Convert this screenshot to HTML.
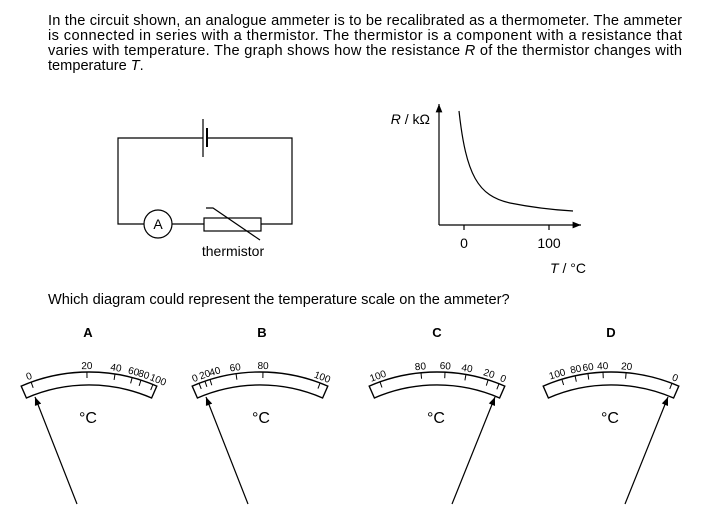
<!DOCTYPE html>
<html><head><meta charset="utf-8"><style>
body{margin:0;background:#fff;}
svg{display:block;font-family:"Liberation Sans",Arial,sans-serif;}
</style></head><body>
<svg width="713" height="516" viewBox="0 0 713 516" xmlns="http://www.w3.org/2000/svg">
<defs>
<marker id="ah" viewBox="0 0 10 10" refX="10" refY="5" markerWidth="7" markerHeight="7" orient="auto"><path d="M0,1 L10,5 L0,9 z" fill="#000"/></marker>
<g id="dial"><path d="M21.2 386.1 A170 170 0 0 1 156.8 386.1 L151.6 398 A157 157 0 0 0 26.4 398 Z" fill="none" stroke="#000" stroke-width="1.4"/></g>
</defs>
<g font-size="14.6" fill="#000">
<text x="48" y="25" textLength="634" lengthAdjust="spacing">In the circuit shown, an analogue ammeter is to be recalibrated as a thermometer. The ammeter</text>
<text x="48" y="40" textLength="634" lengthAdjust="spacing">is connected in series with a thermistor. The thermistor is a component with a resistance that</text>
<text x="48" y="55" textLength="634" lengthAdjust="spacing">varies with temperature. The graph shows how the resistance <tspan font-style="italic">R</tspan> of the thermistor changes with</text>
<text x="48" y="70">temperature <tspan font-style="italic">T</tspan>.</text>
<text x="48" y="304">Which diagram could represent the temperature scale on the ammeter?</text>
</g>
<g stroke="#000" stroke-width="1.2" fill="none">
<path d="M203 138 H118 V224 H144 M172 224 H204 M261 224 H292 V138 H207"/>
<line x1="203" y1="119" x2="203" y2="157"/>
<line x1="207" y1="128" x2="207" y2="147" stroke-width="2"/>
<circle cx="158" cy="224" r="14"/>
<rect x="204" y="218" width="57" height="13"/>
<path d="M206 208 H213 L260 240"/>
<line x1="439" y1="225" x2="439" y2="104" marker-end="url(#ah)"/>
<line x1="439" y1="225" x2="581" y2="225" marker-end="url(#ah)"/>
<line x1="464" y1="225" x2="464" y2="230"/>
<line x1="549" y1="225" x2="549" y2="230"/>
<path d="M459 111 C466 175 478 196 510 203 C535 208 555 210 573 211"/>
</g>
<text x="158" y="229" font-size="14" text-anchor="middle">A</text>
<text x="233" y="256" font-size="14" text-anchor="middle">thermistor</text>
<text x="430" y="124" font-size="14" text-anchor="end"><tspan font-style="italic">R</tspan> / kΩ</text>
<text x="464" y="248" font-size="14" text-anchor="middle">0</text>
<text x="549" y="248" font-size="14" text-anchor="middle">100</text>
<text x="568" y="273" font-size="14" text-anchor="middle"><tspan font-style="italic">T</tspan> / °C</text>
<g font-size="13" font-weight="bold" text-anchor="middle">
<text x="88" y="337">A</text><text x="262" y="337">B</text><text x="437" y="337">C</text><text x="611" y="337">D</text>
</g>
<g font-size="10" text-anchor="middle" stroke="#000" stroke-width="1">
<g>
<use href="#dial"/>
<g transform="rotate(-19.9 89 542)"><line x1="89" y1="372" x2="89" y2="378"/><text x="89" y="369" stroke="none">0</text></g>
<g transform="rotate(-0.7 89 542)"><line x1="89" y1="372" x2="89" y2="378"/><text x="89" y="369" stroke="none">20</text></g>
<g transform="rotate(8.8 89 542)"><line x1="89" y1="372" x2="89" y2="378"/><text x="89" y="369" stroke="none">40</text></g>
<g transform="rotate(14.7 89 542)"><line x1="89" y1="372" x2="89" y2="378"/><text x="89" y="369" stroke="none">60</text></g>
<g transform="rotate(17.8 89 542)"><line x1="89" y1="372" x2="89" y2="378"/><text x="90" y="369" stroke="none">80</text></g>
<g transform="rotate(22.1 89 542)"><line x1="89" y1="372" x2="89" y2="378"/><text x="92" y="369" stroke="none">100</text></g>
</g>
<g transform="translate(171 0)">
<use href="#dial"/>
<g transform="rotate(-21 89 542)"><line x1="89" y1="372" x2="89" y2="378"/><text x="87" y="369" stroke="none">0</text></g>
<g transform="rotate(-18.9 89 542)"><line x1="89" y1="372" x2="89" y2="378"/><text x="91" y="369" stroke="none">20</text></g>
<g transform="rotate(-17.1 89 542)"><line x1="89" y1="372" x2="89" y2="378"/><text x="96" y="369" stroke="none">40</text></g>
<g transform="rotate(-8.1 89 542)"><line x1="89" y1="372" x2="89" y2="378"/><text x="89" y="369" stroke="none">60</text></g>
<g transform="rotate(1 89 542)"><line x1="89" y1="372" x2="89" y2="378"/><text x="89" y="369" stroke="none">80</text></g>
<g transform="rotate(20.7 89 542)"><line x1="89" y1="372" x2="89" y2="378"/><text x="89" y="369" stroke="none">100</text></g>
</g>
<g transform="translate(348 0)">
<use href="#dial"/>
<g transform="rotate(-19.6 89 542)"><line x1="89" y1="372" x2="89" y2="378"/><text x="89" y="369" stroke="none">100</text></g>
<g transform="rotate(-5.4 89 542)"><line x1="89" y1="372" x2="89" y2="378"/><text x="89" y="369" stroke="none">80</text></g>
<g transform="rotate(2.7 89 542)"><line x1="89" y1="372" x2="89" y2="378"/><text x="89" y="369" stroke="none">60</text></g>
<g transform="rotate(9.8 89 542)"><line x1="89" y1="372" x2="89" y2="378"/><text x="89" y="369" stroke="none">40</text></g>
<g transform="rotate(17.5 89 542)"><line x1="89" y1="372" x2="89" y2="378"/><text x="88" y="369" stroke="none">20</text></g>
<g transform="rotate(21.4 89 542)"><line x1="89" y1="372" x2="89" y2="378"/><text x="91" y="369" stroke="none">0</text></g>
</g>
<g transform="translate(522 0)">
<use href="#dial"/>
<g transform="rotate(-16.8 89 542)"><line x1="89" y1="372" x2="89" y2="378"/><text x="86" y="369" stroke="none">100</text></g>
<g transform="rotate(-12.2 89 542)"><line x1="89" y1="372" x2="89" y2="378"/><text x="91" y="369" stroke="none">80</text></g>
<g transform="rotate(-7.8 89 542)"><line x1="89" y1="372" x2="89" y2="378"/><text x="90" y="369" stroke="none">60</text></g>
<g transform="rotate(-2.7 89 542)"><line x1="89" y1="372" x2="89" y2="378"/><text x="89" y="369" stroke="none">40</text></g>
<g transform="rotate(5.1 89 542)"><line x1="89" y1="372" x2="89" y2="378"/><text x="89" y="369" stroke="none">20</text></g>
<g transform="rotate(21 89 542)"><line x1="89" y1="372" x2="89" y2="378"/><text x="90" y="369" stroke="none">0</text></g>
</g>
</g>
<g font-size="16" text-anchor="middle">
<text x="88" y="423">°C</text><text x="261" y="423">°C</text><text x="436" y="423">°C</text><text x="610" y="423">°C</text>
</g>
<g stroke="#000" stroke-width="1.2">
<line x1="77" y1="504" x2="35" y2="397" marker-end="url(#ah)"/>
<line x1="248" y1="504" x2="206" y2="397" marker-end="url(#ah)"/>
<line x1="452" y1="504" x2="495" y2="397" marker-end="url(#ah)"/>
<line x1="625" y1="504" x2="668" y2="397" marker-end="url(#ah)"/>
</g>
</svg>
</body></html>
